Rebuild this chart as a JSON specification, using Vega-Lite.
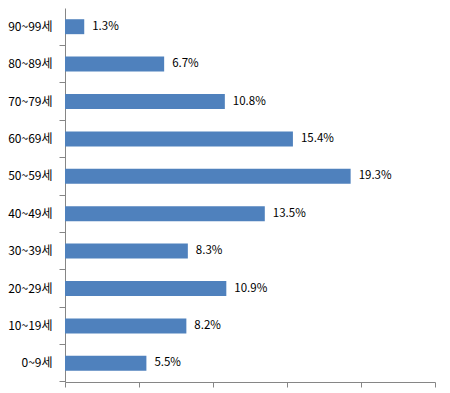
{
  "$schema": "https://vega.github.io/schema/vega-lite/v6.json",
  "autosize": "none",
  "width": 370,
  "height": 374,
  "padding": {"left": 65, "top": 8, "right": 15, "bottom": 11},
  "background": "white",
  "config": {"view": {"stroke": null}},
  "data": {"values": [
    {"age": "90~99세", "pct": 1.3, "label": "1.3%"},
    {"age": "80~89세", "pct": 6.7, "label": "6.7%"},
    {"age": "70~79세", "pct": 10.8, "label": "10.8%"},
    {"age": "60~69세", "pct": 15.4, "label": "15.4%"},
    {"age": "50~59세", "pct": 19.3, "label": "19.3%"},
    {"age": "40~49세", "pct": 13.5, "label": "13.5%"},
    {"age": "30~39세", "pct": 8.3, "label": "8.3%"},
    {"age": "20~29세", "pct": 10.9, "label": "10.9%"},
    {"age": "10~19세", "pct": 8.2, "label": "8.2%"},
    {"age": "0~9세", "pct": 5.5, "label": "5.5%"}
  ]},
  "encoding": {
    "y": {
      "field": "age", "type": "nominal", "sort": null,
      "scale": {"paddingInner": 0, "paddingOuter": 0},
      "axis": {
        "title": null, "bandPosition": 1, "domainColor": "#868686", "tickColor": "#868686",
        "tickSize": 6, "labelPadding": 7, "labelFont": "Noto Sans CJK KR", "labelFontSize": 12,
        "labelColor": "#000000", "domainWidth": 1, "tickWidth": 1
      }
    },
    "x": {
      "field": "pct", "type": "quantitative",
      "scale": {"domain": [0, 25], "nice": false},
      "axis": {
        "title": null, "labels": false, "grid": false, "values": [0, 5, 10, 15, 20, 25],
        "domainColor": "#868686", "tickColor": "#868686", "tickSize": 5
      }
    }
  },
  "layer": [
    {"mark": {"type": "bar", "color": "#4F81BD", "height": {"band": 0.4}}},
    {
      "mark": {"type": "text", "align": "left", "baseline": "middle", "dx": 8, "font": "Noto Sans CJK KR", "fontSize": 11.5, "color": "#000000"},
      "encoding": {"text": {"field": "label"}}
    }
  ]
}
